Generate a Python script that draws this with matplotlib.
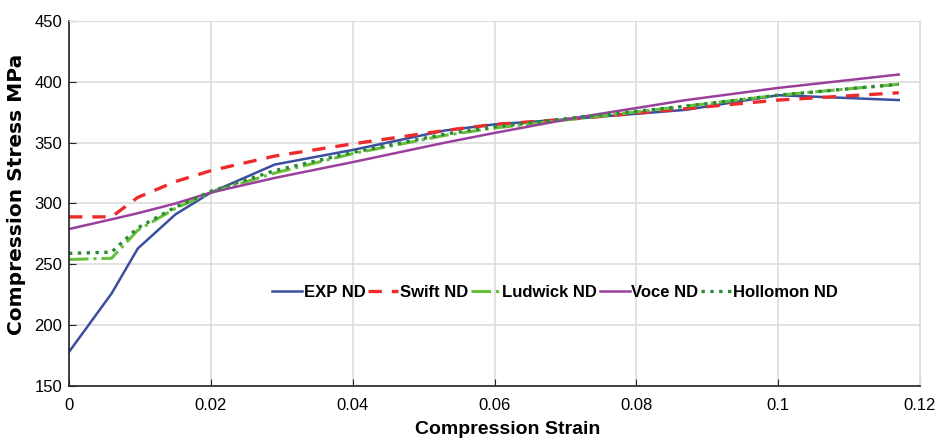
import matplotlib
matplotlib.use('Agg')
import matplotlib.pyplot as plt

strain = [0, 0.006, 0.0097, 0.015, 0.02, 0.029, 0.04, 0.053, 0.06, 0.072, 0.087, 0.1, 0.117]
exp_nd = [178, 226, 263, 291, 309, 332, 344, 360, 365, 370, 377, 389, 385]
swift_nd = [289, 289, 305, 318, 327, 339, 349, 360, 365, 370, 378, 385, 391]
ludwick_nd = [254, 255, 278, 296, 309, 325, 341, 356, 362, 370, 380, 389, 398]
voce_nd = [279, 287, 292, 300, 309, 321, 334, 350, 358, 371, 385, 395, 406]
hollomon_nd = [259, 260, 280, 297, 310, 327, 342, 357, 363, 371, 380, 389, 398]

names = ['EXP ND', 'Swift ND', 'Ludwick ND', 'Voce ND', 'Hollomon ND']

plt.rcParams['font.family'] = ['Liberation Sans', 'DejaVu Sans']

fig = plt.figure(figsize=(9.35, 4.42), dpi=100)
ax = fig.add_axes([0.0738, 0.1267, 0.9102, 0.8258])

ax.plot(strain, exp_nd, '-', color='#3b4ea0', lw=1.8, label=names[0])
ax.plot(strain, swift_nd, '--', color='#ee2a2a', lw=2.4, dashes=(4, 3), label=names[1])
ax.plot(strain, ludwick_nd, '-.', color='#6abf3a', lw=2.2, label=names[2])
ax.plot(strain, voce_nd, '-', color='#9b3f9f', lw=1.8, label=names[3])
ax.plot(strain, hollomon_nd, ':', color='#2a8a3a', lw=2.4, label=names[4])

ax.set_xlim(0, 0.12)
ax.set_ylim(150, 450)
ax.set_xticks([0, 0.02, 0.04, 0.06, 0.08, 0.1, 0.12])
ax.set_xticklabels(['0', '0.02', '0.04', '0.06', '0.08', '0.1', '0.12'])
ax.set_yticks(range(150, 451, 50))
ax.tick_params(direction='in', labelsize=12, length=5, color='#222222')
ax.tick_params(axis='x', pad=9)
ax.tick_params(axis='y', pad=5)
ax.grid(True, color='#dddddd', lw=1.2)
ax.set_axisbelow(True)
for s in ['top', 'right']:
    ax.spines[s].set_color('#dddddd')
for s in ['left', 'bottom']:
    ax.spines[s].set_color('#222222')
    ax.spines[s].set_linewidth(1.2)

ax.set_xlabel('Compression Strain', fontsize=14, fontweight='bold')
ax.xaxis.set_label_coords(0.515, -0.097)
ax.set_ylabel('Compression Stress MPa', fontsize=14.5, fontweight='bold',
              family=['DejaVu Sans'])
ax.yaxis.set_label_coords(-0.05, 0.525)

leg = ax.legend(loc='center', bbox_to_anchor=(0.571, 0.2575), ncol=5, frameon=False,
                handlelength=1.8, handletextpad=0.1, columnspacing=0.15,
                prop={'weight': 'bold', 'size': 12})

fig.savefig('out.png', dpi=100)
